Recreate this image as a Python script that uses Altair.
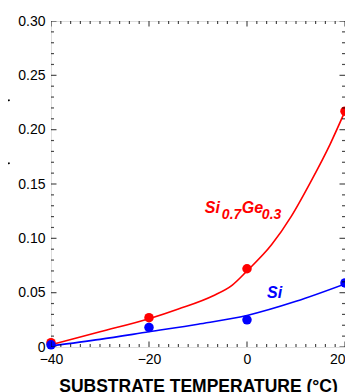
import altair as alt
import pandas as pd

# measured points
temps = [-40, -20, 0, 20]
sige_vals = [0.004, 0.027, 0.072, 0.217]
si_vals = [0.002, 0.018, 0.025, 0.059]

# fitted curves
sige_curve_x = [-40, -30, -20, -14, -7, -3, 0, 5, 9, 13, 17, 20]
sige_curve_y = [0.002, 0.014, 0.026, 0.035, 0.047, 0.057, 0.070, 0.094, 0.120, 0.152, 0.187, 0.217]
si_curve_x = [-40, -30, -20, -10, 0, 10, 20]
si_curve_y = [0.001, 0.007, 0.014, 0.021, 0.029, 0.042, 0.058]

# axis ticks
x_major = [-40, -20, 0, 20]
x_minor = [-38, -36, -34, -32, -30, -28, -26, -24, -22, -18, -16, -14, -12, -10,
           -8, -6, -4, -2, 2, 4, 6, 8, 10, 12, 14, 16, 18]
y_major = [0, 0.05, 0.10, 0.15, 0.20, 0.25, 0.30]
y_minor = [0.01, 0.02, 0.03, 0.04, 0.06, 0.07, 0.08, 0.09, 0.11, 0.12, 0.13, 0.14,
           0.16, 0.17, 0.18, 0.19, 0.21, 0.22, 0.23, 0.24, 0.26, 0.27, 0.28, 0.29]

# annotations
sige_label_parts = ["Si", "0.7", "Ge", "0.3"]
sige_label_dx = [0, 17, 37, 57]
sige_label_dy = [0, 6, 0, 6]
sige_label_size = [16, 14, 16, 14]
sige_label_pos = (-8.6, 0.123)
si_label_pos = (4.1, 0.045)

# stray marks at the left edge
stray_x = [-48.6, -48.6]
stray_y = [0.227, 0.169]

RED = "#ff0000"
BLUE = "#0000ff"

xs = alt.Scale(domain=[-40, 20], nice=False, zero=False)
ys = alt.Scale(domain=[0, 0.30], nice=False)

x_axis = alt.Axis(values=x_major, ticks=False, domain=False, grid=False,
                  labelFont="Liberation Sans", labelFontSize=14, labelColor="black",
                  labelPadding=5, labelFlush=False,
                  labelAlign={"condition": {"test": "datum.value == 20", "value": "right"},
                              "value": "center"},
                  title="SUBSTRATE TEMPERATURE (°C)", titleFont="Liberation Sans",
                  titleFontSize=17.5, titleFontWeight="bold", titleColor="black",
                  titlePadding=11)
y_axis = alt.Axis(values=y_major, ticks=False, domain=False, grid=False,
                  labelFont="Liberation Sans", labelFontSize=14, labelColor="black",
                  labelPadding=6, labelFlush=False,
                  labelExpr="datum.value == 0 ? '0' : format(datum.value, '.2f')",
                  title=None)

pts = pd.DataFrame({
    "t": temps * 2,
    "v": sige_vals + si_vals,
    "s": ["SiGe"] * 4 + ["Si"] * 4,
})
curves = pd.DataFrame({
    "t": sige_curve_x + si_curve_x,
    "v": sige_curve_y + si_curve_y,
    "s": ["SiGe"] * len(sige_curve_x) + ["Si"] * len(si_curve_x),
})
color = alt.Color("s:N", scale=alt.Scale(domain=["SiGe", "Si"], range=[RED, BLUE]), legend=None)

lines = alt.Chart(curves).mark_line(interpolate="monotone", strokeWidth=1.6).encode(
    x=alt.X("t:Q", scale=xs, axis=x_axis),
    y=alt.Y("v:Q", scale=ys, axis=y_axis),
    color=color, detail="s:N")

dots = alt.Chart(pts).mark_circle(size=90, opacity=1).encode(
    x=alt.X("t:Q", scale=xs), y=alt.Y("v:Q", scale=ys), color=color)

def tick_layer(xv, yv, orient, size):
    df = pd.DataFrame({"t": xv, "v": yv})
    return alt.Chart(df).mark_tick(orient=orient, size=size, thickness=1.2,
                                   color="black", clip=True).encode(
        x=alt.X("t:Q", scale=xs), y=alt.Y("v:Q", scale=ys))

ticks = [
    tick_layer(x_minor, [0] * len(x_minor), "vertical", 6),
    tick_layer(x_minor, [0.30] * len(x_minor), "vertical", 6),
    tick_layer(x_major, [0] * len(x_major), "vertical", 11),
    tick_layer(x_major, [0.30] * len(x_major), "vertical", 11),
    tick_layer([-40] * len(y_minor), y_minor, "horizontal", 6),
    tick_layer([20] * len(y_minor), y_minor, "horizontal", 6),
    tick_layer([-40] * len(y_major), y_major, "horizontal", 11),
    tick_layer([20] * len(y_major), y_major, "horizontal", 11),
]

sige_lab = pd.DataFrame({
    "t": [sige_label_pos[0]] * 4, "v": [sige_label_pos[1]] * 4,
    "txt": sige_label_parts, "dx": sige_label_dx, "dy": sige_label_dy,
    "fs": sige_label_size,
})
sige_text_layers = []
for i in range(4):
    sige_text_layers.append(
        alt.Chart(sige_lab.iloc[[i]]).mark_text(
            align="left", baseline="alphabetic", font="Liberation Sans",
            fontWeight="bold", fontStyle="italic", fontSize=int(sige_label_size[i]),
            dx=int(sige_label_dx[i]), dy=int(sige_label_dy[i]), color=RED).encode(
            x=alt.X("t:Q", scale=xs), y=alt.Y("v:Q", scale=ys), text="txt:N"))

si_lab = pd.DataFrame({"t": [si_label_pos[0]], "v": [si_label_pos[1]], "txt": ["Si"]})
si_text = alt.Chart(si_lab).mark_text(
    align="left", baseline="alphabetic", font="Liberation Sans", fontWeight="bold",
    fontStyle="italic", fontSize=16, color=BLUE).encode(
    x=alt.X("t:Q", scale=xs), y=alt.Y("v:Q", scale=ys), text="txt:N")

stray = alt.Chart(pd.DataFrame({"t": stray_x, "v": stray_y})).mark_point(
    filled=True, size=4, color="black", opacity=1).encode(
    x=alt.X("t:Q", scale=xs), y=alt.Y("v:Q", scale=ys))

chart = alt.layer(lines, dots, *ticks, *sige_text_layers, si_text, stray).properties(
    width=294, height=326,
    autosize=alt.AutoSizeParams(type="none"),
    padding={"left": 43, "top": 13, "right": 0, "bottom": 50},
).configure_view(stroke="black", strokeWidth=1.8).configure(background="white")

chart.save("out.html", embed_options={"renderer": "svg", "actions": False})
